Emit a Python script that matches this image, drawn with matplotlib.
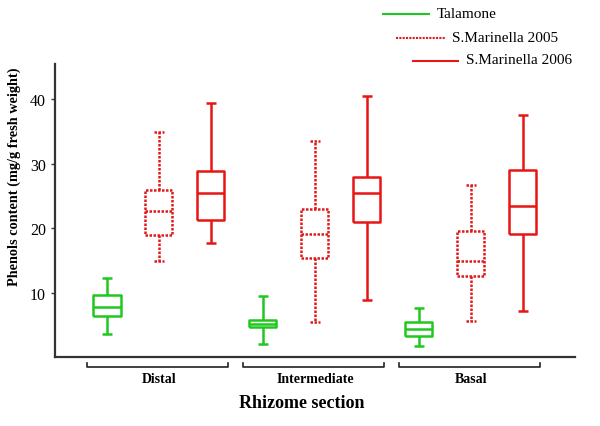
import matplotlib
matplotlib.use('Agg')
import matplotlib.pyplot as plt
from matplotlib.lines import Line2D

plt.rcParams['font.family'] = ['Liberation Serif', 'DejaVu Serif']

# Secciones del rizoma
secciones = ['Distal', 'Intermediate', 'Basal']
series = ['Talamone', 'S.Marinella 2005', 'S.Marinella 2006']

# Estadisticos: bigote inferior, Q1, mediana, Q3, bigote superior
talamone_low = [3.5, 2.0, 1.7]
talamone_q1 = [6.3, 4.6, 3.3]
talamone_med = [7.7, 5.1, 4.4]
talamone_q3 = [9.7, 5.7, 5.4]
talamone_high = [12.3, 9.4, 7.6]

sm2005_low = [14.9, 5.4, 5.6]
sm2005_q1 = [18.9, 15.4, 12.5]
sm2005_med = [22.6, 19.1, 14.9]
sm2005_q3 = [26.0, 23.0, 19.5]
sm2005_high = [34.9, 33.6, 26.7]

sm2006_low = [17.7, 8.8, 7.1]
sm2006_q1 = [21.2, 20.9, 19.1]
sm2006_med = [25.5, 25.4, 23.5]
sm2006_q3 = [28.9, 28.0, 29.1]
sm2006_high = [39.5, 40.5, 37.5]

datos = [
    (talamone_low, talamone_q1, talamone_med, talamone_q3, talamone_high),
    (sm2005_low, sm2005_q1, sm2005_med, sm2005_q3, sm2005_high),
    (sm2006_low, sm2006_q1, sm2006_med, sm2006_q3, sm2006_high),
]
colores = ['#1ec81e', '#e01a1a', '#e81515']
estilos = [(0, ()), (0, (1, 0.6)), (0, ())]

fig = plt.figure(figsize=(6, 4.27), dpi=100)
ax = fig.add_axes([0.0917, 0.1616, 0.8663, 0.6864])

for j, (low, q1, med, q3, high) in enumerate(datos):
    stats = []
    pos = []
    for i in range(len(secciones)):
        stats.append({'whislo': low[i], 'q1': q1[i], 'med': med[i],
                      'q3': q3[i], 'whishi': high[i], 'fliers': []})
        pos.append(1 + 3 * i + j)
    estilo = dict(color=colores[j], linewidth=1.8, linestyle=estilos[j])
    ax.bxp(stats, positions=pos, widths=0.52, capwidths=0.2, showfliers=False,
           boxprops=estilo, medianprops=estilo, whiskerprops=estilo, capprops=estilo)

ax.set_xlim(0, 10)
ax.set_ylim(0, 45.5)
ax.set_yticks([10, 20, 30, 40])
ax.set_xticks([])
ax.tick_params(axis='y', labelsize=11.5, length=3, width=1, color='#333333')
for s in ['top', 'right']:
    ax.spines[s].set_visible(False)
for s in ['left', 'bottom']:
    ax.spines[s].set_linewidth(1.6)
    ax.spines[s].set_color('#333333')

# Llaves de cada seccion
trans = ax.get_xaxis_transform()
for i, nombre in enumerate(secciones):
    x0 = 0.62 + 3 * i
    x1 = 3.33 + 3 * i
    ax.plot([x0, x0, x1, x1], [-0.020, -0.034, -0.034, -0.020], color='#222222',
            linewidth=1.2, transform=trans, clip_on=False)
    ax.text(2 + 3 * i, -0.075, nombre, transform=trans, ha='center', va='center',
            fontsize=10, fontweight='bold')

fig.text(302 / 600, 1 - 404 / 427, 'Rhizome section', ha='center', va='center',
         fontsize=13, fontweight='bold')
fig.text(14 / 600, 1 - 177 / 427, 'Phenols content (mg/g fresh weight)', ha='center',
         va='center', rotation=90, fontsize=10.3, fontweight='bold')

# Leyenda escalonada
leyenda = [(382, 430, 15), (396, 445, 39), (412, 459, 62)]
for j, (xa, xb, yy) in enumerate(leyenda):
    fig.add_artist(Line2D([xa / 600, xb / 600], [1 - yy / 427, 1 - yy / 427],
                          color=colores[j], linewidth=1.5, linestyle=estilos[j]))
    fig.text((xb + 7) / 600, 1 - (yy - 1) / 427, series[j], ha='left', va='center',
             fontsize=11)

fig.savefig('out.png', dpi=100)
